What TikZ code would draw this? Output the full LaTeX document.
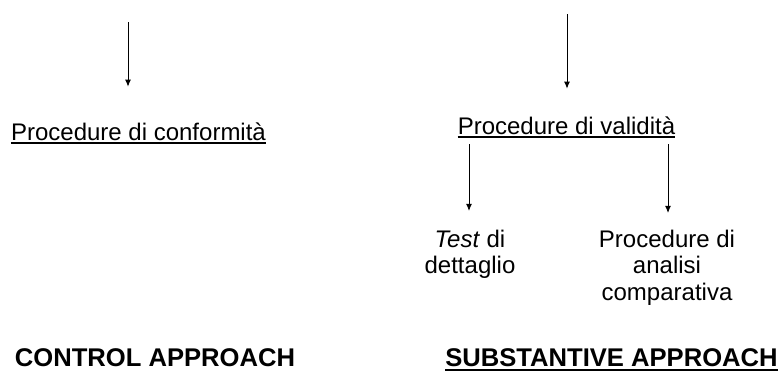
\documentclass[tikz,border=0pt]{standalone}
\usepackage{fontspec}
\setmainfont{Liberation Sans}
\usetikzlibrary{arrows.meta}
\tikzset{
  txt/.style={inner sep=0pt, anchor=base, font=\fontsize{24}{26.5}\selectfont, align=center},
  headtxt/.style={inner sep=0pt, anchor=base, font=\fontsize{25.6}{28}\selectfont\bfseries},
  arr/.style={draw=black, line width=0.9pt, -{Latex[length=7pt,width=6pt]}},
  uline/.style={draw=black, line width=1.4pt}
}
\begin{document}
\begin{tikzpicture}[x=1pt,y=-1pt]
  \useasboundingbox (0,0) rectangle (783,376);

  % entry points of the two upper arrows
  \coordinate (srcL) at (128,22);
  \coordinate (srcR) at (567,14);

  % left branch
  \node[txt] (conf) at (138.5,140) {Procedure di conformità};
  \draw[uline] ([yshift=-3pt]conf.base west) -- ([yshift=-3pt]conf.base east);
  \draw[arr, shorten >=35.5pt] (srcL) -- (srcL |- conf.north);

  % right branch
  \node[txt] (valid) at (566.5,134) {Procedure di validità};
  \draw[uline] ([yshift=-3pt]valid.base west) -- ([yshift=-3pt]valid.base east);
  \draw[arr, shorten >=27.5pt] (srcR) -- (srcR |- valid.north);

  % multi-line nodes: the base anchor sits on the last line
  \node[txt] (test) at (470,273.5) {\textit{Test} di\\dettaglio};
  \node[txt] (comp) at (667,300) {Procedure di\\analisi\\comparativa};
  \draw[arr, shorten <=10pt, shorten >=18.5pt] ([xshift=-1pt]valid.south -| test.north) -- ([xshift=-1pt]test.north);
  \draw[arr, shorten <=10pt, shorten >=16.5pt] ([xshift=1pt]valid.south -| comp.north) -- ([xshift=1pt]comp.north);

  % approach headings
  \node[headtxt] (ctrl) at (155,366) {CONTROL APPROACH};
  \node[headtxt] (subst) at (611.5,366) {SUBSTANTIVE APPROACH};
  \draw[uline, line width=1.8pt] ([yshift=-4pt]subst.base west) -- ([yshift=-4pt]subst.base east);
\end{tikzpicture}
\end{document}
